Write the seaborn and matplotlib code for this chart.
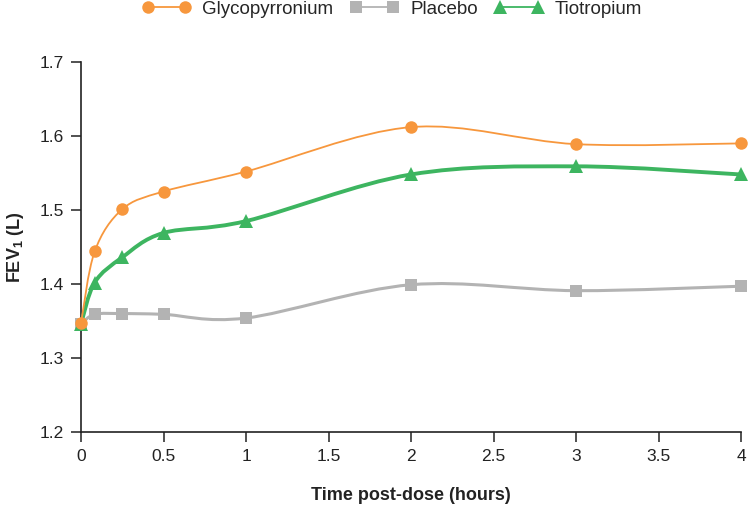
import numpy as np
import pandas as pd
import seaborn as sns
import matplotlib
matplotlib.use("Agg")
import matplotlib.pyplot as plt
from matplotlib.path import Path
from matplotlib.patches import PathPatch
from matplotlib.lines import Line2D

# ---- data ----
time_h = [0, 0.083, 0.25, 0.5, 1, 2, 3, 4]
glycopyrronium = [1.347, 1.444, 1.501, 1.525, 1.552, 1.612, 1.589, 1.590]
placebo = [1.346, 1.359, 1.360, 1.359, 1.354, 1.399, 1.391, 1.397]
tiotropium = [1.346, 1.402, 1.436, 1.469, 1.485, 1.548, 1.559, 1.548]
series_names = ["Glycopyrronium", "Placebo", "Tiotropium"]
x_ticks = [0, 0.5, 1, 1.5, 2, 2.5, 3, 3.5, 4]
x_tick_labels = ["0", "0.5", "1", "1.5", "2", "2.5", "3", "3.5", "4"]
y_ticks = [1.2, 1.3, 1.4, 1.5, 1.6, 1.7]
y_tick_labels = ["1.2", "1.3", "1.4", "1.5", "1.6", "1.7"]

sns.set_theme(style="ticks")
plt.rcParams["font.family"] = ["Liberation Sans", "DejaVu Sans"]
plt.rcParams["mathtext.fontset"] = "custom"
plt.rcParams["mathtext.bf"] = "Liberation Sans:bold"
plt.rcParams["mathtext.rm"] = "Liberation Sans"

fig = plt.figure(figsize=(7.51, 5.05), dpi=100)
ax = fig.add_axes([81 / 751, 1 - 432 / 505, 660 / 751, 370 / 505])

styles = {
    "Glycopyrronium": dict(color="#F7973D", marker="o", ms=9, lw=1.3, z=4),
    "Placebo": dict(color="#B3B3B3", marker="s", ms=8.5, lw=2.2, z=2),
    "Tiotropium": dict(color="#3DB560", marker="^", ms=9.5, lw=2.8, z=3),
}
values = {"Glycopyrronium": glycopyrronium, "Placebo": placebo, "Tiotropium": tiotropium}


def smooth_path(xs, ys):
    pts = np.column_stack([xs, ys])
    n = len(pts)
    verts = [pts[0]]
    codes = [Path.MOVETO]
    for i in range(n - 1):
        p0 = pts[i - 1] if i > 0 else pts[i]
        p1 = pts[i]
        p2 = pts[i + 1]
        p3 = pts[i + 2] if i + 2 < n else pts[i + 1]
        c1 = p1 + (p2 - p0) / 6.0
        c2 = p2 - (p3 - p1) / 6.0
        verts += [c1, c2, p2]
        codes += [Path.CURVE4] * 3
    return Path(verts, codes)


for name in series_names:
    st = styles[name]
    ys = values[name]
    patch = PathPatch(smooth_path(time_h, ys), facecolor="none", edgecolor=st["color"],
                      lw=st["lw"], zorder=st["z"], clip_on=False, capstyle="round")
    ax.add_patch(patch)
    df = pd.DataFrame({"time": time_h, "fev1": ys})
    sns.lineplot(data=df, x="time", y="fev1", ax=ax, color=st["color"], linewidth=0,
                 marker=st["marker"], markersize=st["ms"], markeredgewidth=0,
                 zorder=st["z"] + 0.5, clip_on=False)

ax.set_xlim(0, 4)
ax.set_ylim(1.2, 1.7)
ax.set_xticks(x_ticks)
ax.set_xticklabels(x_tick_labels)
ax.set_yticks(y_ticks)
ax.set_yticklabels(y_tick_labels)
ax.tick_params(axis="both", labelsize=12.5, length=7, width=1.1, color="#222222",
               labelcolor="#222222", pad=5, direction="out")
for s in ["top", "right"]:
    ax.spines[s].set_visible(False)
for s in ["left", "bottom"]:
    ax.spines[s].set_linewidth(1.2)
    ax.spines[s].set_color("#222222")

ax.set_xlabel("Time post-dose (hours)", fontsize=13, fontweight="bold", labelpad=17, color="#222222")
ax.set_ylabel(r"FEV$_{\mathbf{1}}$ (L)", fontsize=13, fontweight="bold", labelpad=10, color="#222222")

handles = [Line2D([0], [0], color=styles[n]["color"], marker=styles[n]["marker"],
                  markersize=styles[n]["ms"], markeredgewidth=0, lw=1.3) for n in series_names]
fig.legend(handles, series_names, loc="center", bbox_to_anchor=(0.522, 0.982), ncol=3,
           frameon=False, fontsize=13.5, numpoints=2, handlelength=2.6, handletextpad=0.6,
           columnspacing=0.9)

fig.savefig("out.png", dpi=100)
